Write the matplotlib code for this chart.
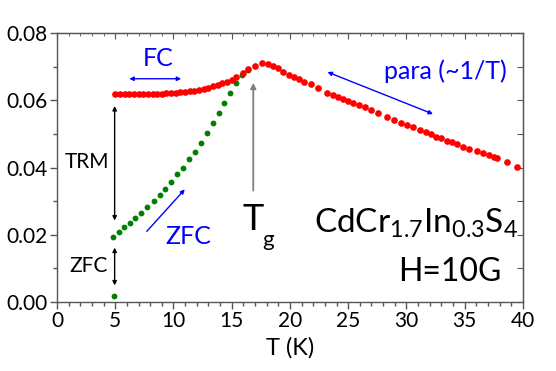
import numpy as np
import matplotlib
matplotlib.use('Agg')
import matplotlib.pyplot as plt
from matplotlib.ticker import MultipleLocator

plt.rcParams['font.family'] = ['Lato', 'DejaVu Sans']
plt.rcParams['mathtext.fontset'] = 'custom'
plt.rcParams['mathtext.rm'] = 'Lato'
plt.rcParams['mathtext.it'] = 'Lato'

# FC (red) magnetisation vs temperature
fc_T = [5.0, 5.4, 5.8, 6.2, 6.6, 7.0, 7.4, 7.8, 8.2, 8.6, 9.0, 9.4, 9.8, 10.2, 10.6,
        11.0, 11.4, 11.8, 12.2, 12.6, 13.0, 13.4, 13.8, 14.2, 14.6, 15.0, 15.4,
        15.94, 16.42, 17.0, 17.57, 18.09, 18.57, 19.0, 19.43, 19.92, 20.37, 20.80,
        21.23, 21.78, 22.38,
        23.2, 23.72, 24.15, 24.58, 25.0, 25.43, 25.95, 26.44, 27.0, 27.58,
        28.3, 28.93, 29.53, 30.07, 30.58, 31.16, 31.65, 32.1, 32.53, 32.96, 33.45,
        33.88, 34.36, 34.88, 35.39, 36.03, 36.6, 37.11, 37.51, 37.8, 38.6, 39.45]
fc_M = [0.0618, 0.0618, 0.0618, 0.0618, 0.0618, 0.0618, 0.0618, 0.0619, 0.0619, 0.0620,
        0.0620, 0.0621, 0.0622, 0.0623, 0.0624, 0.0625, 0.0627, 0.0629, 0.0631, 0.0634,
        0.0637, 0.0641, 0.0645, 0.0650, 0.0655, 0.0661, 0.0668,
        0.0680, 0.0693, 0.0703, 0.0710, 0.0708, 0.0702, 0.0695, 0.0685, 0.0675, 0.0668,
        0.0662, 0.0655, 0.0647, 0.0637,
        0.0622, 0.0616, 0.0611, 0.0604, 0.0598, 0.0593, 0.0586, 0.0579, 0.0571, 0.0563,
        0.0549, 0.0541, 0.0533, 0.0526, 0.0519, 0.0512, 0.0507, 0.0500, 0.0492, 0.0487,
        0.0480, 0.0475, 0.0469, 0.0462, 0.0456, 0.0449, 0.0442, 0.0436, 0.0432, 0.0428,
        0.0416, 0.0402]

# ZFC (green)
zfc_T = [4.9, 4.84, 5.35, 5.78, 6.23, 6.72, 7.24, 7.75, 8.3, 8.84, 9.3, 9.78, 10.27,
         10.79, 11.33, 11.85, 12.36, 12.85, 13.36, 13.88, 14.36, 14.85, 15.36, 15.9, 16.4]
zfc_M = [0.0019, 0.0194, 0.0209, 0.0222, 0.0236, 0.0251, 0.0266, 0.0283, 0.0301, 0.0318,
         0.0336, 0.0357, 0.0380, 0.0400, 0.0424, 0.0447, 0.0474, 0.0502, 0.0533, 0.0563,
         0.0593, 0.0622, 0.0652, 0.0675, 0.0690]

fig = plt.figure(figsize=(5.56, 3.71), dpi=100)
ax = fig.add_axes([0.1025, 0.186, 0.838, 0.725])

ax.plot(zfc_T, zfc_M, 'o', color='#008000', ms=4.2, mec='none', zorder=3)
ax.plot(fc_T, fc_M, 'o', color='#ff0000', ms=4.8, mec='none', zorder=4)

ax.set_xlim(0, 40)
ax.set_ylim(0, 0.08)
ax.xaxis.set_major_locator(MultipleLocator(5))
ax.xaxis.set_minor_locator(MultipleLocator(1))
ax.yaxis.set_major_locator(MultipleLocator(0.02))
ax.yaxis.set_minor_locator(MultipleLocator(0.01))
ax.yaxis.set_major_formatter(plt.FuncFormatter(lambda v, p: f'{v:.2f}'))

spc = '#555555'
for s in ax.spines.values():
    s.set_color(spc)
    s.set_linewidth(1.0)
ax.tick_params(which='major', direction='out', length=5, width=1, color=spc,
               labelsize=15, pad=1.5)
ax.tick_params(which='minor', direction='out', length=3, width=1, color=spc)

top = ax.secondary_xaxis('top')
top.xaxis.set_major_locator(MultipleLocator(5))
top.xaxis.set_minor_locator(MultipleLocator(1))
top.tick_params(which='major', direction='in', length=4, color=spc, labeltop=False)
top.tick_params(which='minor', direction='in', length=2.5, color=spc)
top.spines['top'].set_color(spc)

right = ax.secondary_yaxis('right')
right.yaxis.set_major_locator(MultipleLocator(0.01))
right.yaxis.set_minor_locator(plt.NullLocator())
right.tick_params(which='major', direction='in', length=4, color=spc, labelright=False)
right.spines['right'].set_color(spc)

ax.set_xlabel('T (K)', fontsize=17, labelpad=4)

blue = '#0000ff'
# FC annotation
ax.text(8.7, 0.0723, 'FC', color=blue, fontsize=18, ha='center', va='center')
ax.annotate('', xy=(5.97, 0.0664), xytext=(10.9, 0.0664),
            arrowprops=dict(arrowstyle='<|-|>', color=blue, lw=1, mutation_scale=6))

# para annotation
ax.text(33.3, 0.0685, 'para (~1/T)', color=blue, fontsize=18, ha='center', va='center')
ax.annotate('', xy=(23.0, 0.0687), xytext=(32.5, 0.0556),
            arrowprops=dict(arrowstyle='<|-|>', color=blue, lw=1, mutation_scale=6))

# ZFC blue arrow
ax.annotate('', xy=(11.13, 0.0341), xytext=(7.55, 0.0204),
            arrowprops=dict(arrowstyle='-|>', color=blue, lw=1, mutation_scale=6))
ax.text(11.3, 0.0196, 'ZFC', color=blue, fontsize=18, ha='center', va='center')

# TRM and ZFC black arrows
ax.annotate('', xy=(4.95, 0.0591), xytext=(4.95, 0.0234),
            arrowprops=dict(arrowstyle='<|-|>', color='black', lw=1, mutation_scale=6))
ax.text(2.6, 0.0417, 'TRM', fontsize=15, ha='center', va='center')
ax.annotate('', xy=(4.95, 0.0170), xytext=(4.95, 0.0041),
            arrowprops=dict(arrowstyle='<|-|>', color='black', lw=1, mutation_scale=6))
ax.text(2.7, 0.0107, 'ZFC', fontsize=15, ha='center', va='center')

# Tg arrow
ax.annotate('', xy=(16.85, 0.0660), xytext=(16.85, 0.0323),
            arrowprops=dict(arrowstyle='-|>', color='#808080', lw=1.3, mutation_scale=8))
ax.text(16.85, 0.0245, 'T', fontsize=26, ha='center', va='center')
ax.text(18.1, 0.0185, 'g', fontsize=16, ha='center', va='center')

# compound label
ax.text(39.6, 0.0235, r'$\mathregular{CdCr_{1.7}In_{0.3}S_4}$', fontsize=24,
        ha='right', va='center')
ax.text(38.2, 0.0090, 'H=10G', fontsize=23, ha='right', va='center')

fig.savefig('out.png', dpi=100)
